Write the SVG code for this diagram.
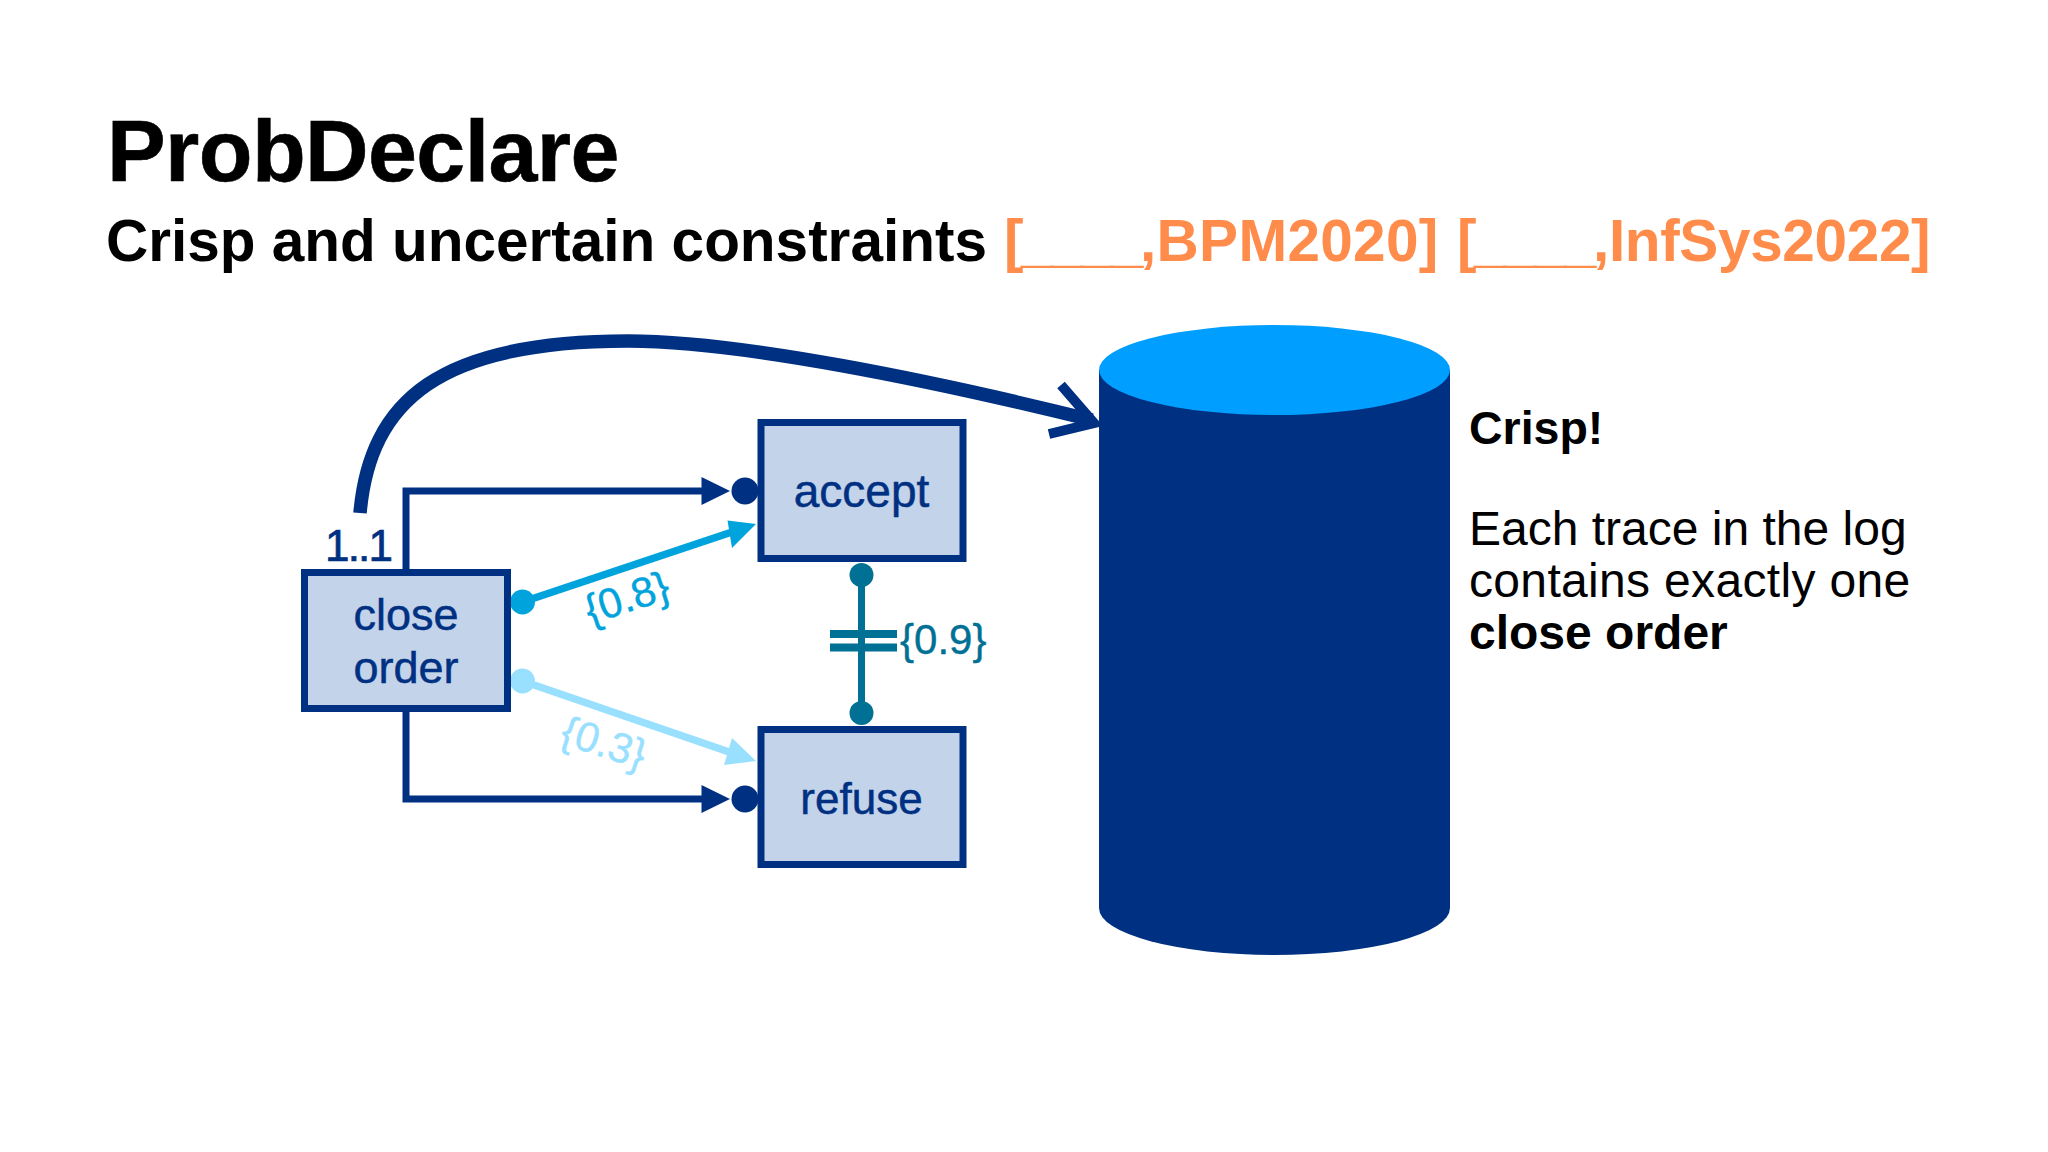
<svg xmlns="http://www.w3.org/2000/svg" width="2048" height="1152" viewBox="0 0 2048 1152">
<style>
text{font-family:"Liberation Sans",Arial,sans-serif}
.box{fill:#c2d3ea;stroke:#003082;stroke-width:7}
.nt{font-size:45px;fill:#003082;text-anchor:middle;stroke:#003082;stroke-width:.5}
.dark{stroke:#003082;stroke-width:7;fill:none}
.body{font-size:48px;fill:#000}
.b{font-weight:700}
.sub{font-size:58.500px;font-weight:700}
.or{fill:#ff8c4b}
</style>
<rect width="2048" height="1152" fill="#fff"/>
<g id="title">
<text x="107" y="180.500" font-size="88" font-weight="700" letter-spacing="-0.6" stroke="#000" stroke-width=".6">ProbDeclare</text>
<text class="sub" x="106" y="261">Crisp and uncertain constraints</text>
<text class="sub or" y="261"><tspan x="1004" letter-spacing="-2.600">[____</tspan><tspan x="1140" letter-spacing=".3">,BPM2020]</tspan><tspan x="1457" letter-spacing="-2.600">[____</tspan><tspan x="1593" letter-spacing="-.35">,InfSys2022]</tspan></text>
</g>
<g id="cylinder">
<path d="M1099 370V908A175.500 47 0 0 0 1450 908V370Z" fill="#003082"/>
<ellipse cx="1274.500" cy="370" rx="175.500" ry="45" fill="#009eff"/>
</g>
<g id="connectors">
<path d="M360 513C370 400 440 341 628 341C740 341 930 380 1092 420" fill="none" stroke="#003082" stroke-width="13.500"/>
<path d="M1061 385L1094 423L1049 434" fill="none" stroke="#003082" stroke-width="10"/>
<path class="dark" d="M406 569V491H705"/>
<path d="M701.500 477L730 491L701.500 505Z" fill="#003082"/>
<circle cx="745" cy="491" r="13.500" fill="#003082"/>
<path class="dark" d="M406 712V799H705"/>
<path d="M701.500 785L730 799L701.500 813Z" fill="#003082"/>
<circle cx="745" cy="799" r="13.500" fill="#003082"/>
<path d="M522.500 602L735 531" stroke="#00a3dc" stroke-width="7.500" fill="none"/>
<path d="M756 524L727.500 520.500L732 548Z" fill="#00a3dc"/>
<circle cx="522.500" cy="602" r="12.500" fill="#00a3dc"/>
<path d="M522.500 681L735 754" stroke="#99e0ff" stroke-width="7.500" fill="none"/>
<path d="M756 761L732 738L724 765Z" fill="#99e0ff"/>
<circle cx="522.500" cy="681" r="12.500" fill="#99e0ff"/>
<path d="M861.500 575V713" stroke="#007095" stroke-width="7" fill="none"/>
<path d="M830 634H897M830 647.500H897" stroke="#007095" stroke-width="8" fill="none"/>
<circle cx="861.500" cy="575" r="12" fill="#007095"/>
<circle cx="861.500" cy="713" r="12" fill="#007095"/>
</g>
<g id="node-close-order">
<rect class="box" x="304.500" y="572.500" width="203" height="136"/>
<text class="nt" x="406" y="630">close</text>
<text class="nt" x="406" y="683">order</text>
</g>
<g id="node-accept">
<rect class="box" x="761" y="422.500" width="202" height="136"/>
<text class="nt" x="861.500" y="507" style="font-size:46px">accept</text>
</g>
<g id="node-refuse">
<rect class="box" x="761" y="729.500" width="202" height="135"/>
<text class="nt" x="861.500" y="814" style="font-size:44px">refuse</text>
</g>
<g id="labels">
<text x="325" y="561" font-size="44" fill="#003082" letter-spacing="-1.800" stroke="#003082" stroke-width=".7">1..1</text>
<text x="627" y="612" font-size="42" fill="#00a3dc" text-anchor="middle" stroke="#00a3dc" stroke-width=".4" transform="rotate(-18 627 598)">{0.8}</text>
<text x="604" y="757" font-size="42" fill="#99e0ff" text-anchor="middle" stroke="#99e0ff" stroke-width=".4" transform="rotate(18 604 743)">{0.3}</text>
<text x="900" y="654" font-size="42" fill="#007095" stroke="#007095" stroke-width=".4">{0.9}</text>
</g>
<g id="note">
<text class="b" x="1469" y="444" font-size="46.500">Crisp!</text>
<text class="body" x="1469" y="545">Each trace in the log</text>
<text class="body" x="1469" y="597" letter-spacing=".33">contains exactly one</text>
<text class="body b" x="1469" y="649">close order</text>
</g>
</svg>
